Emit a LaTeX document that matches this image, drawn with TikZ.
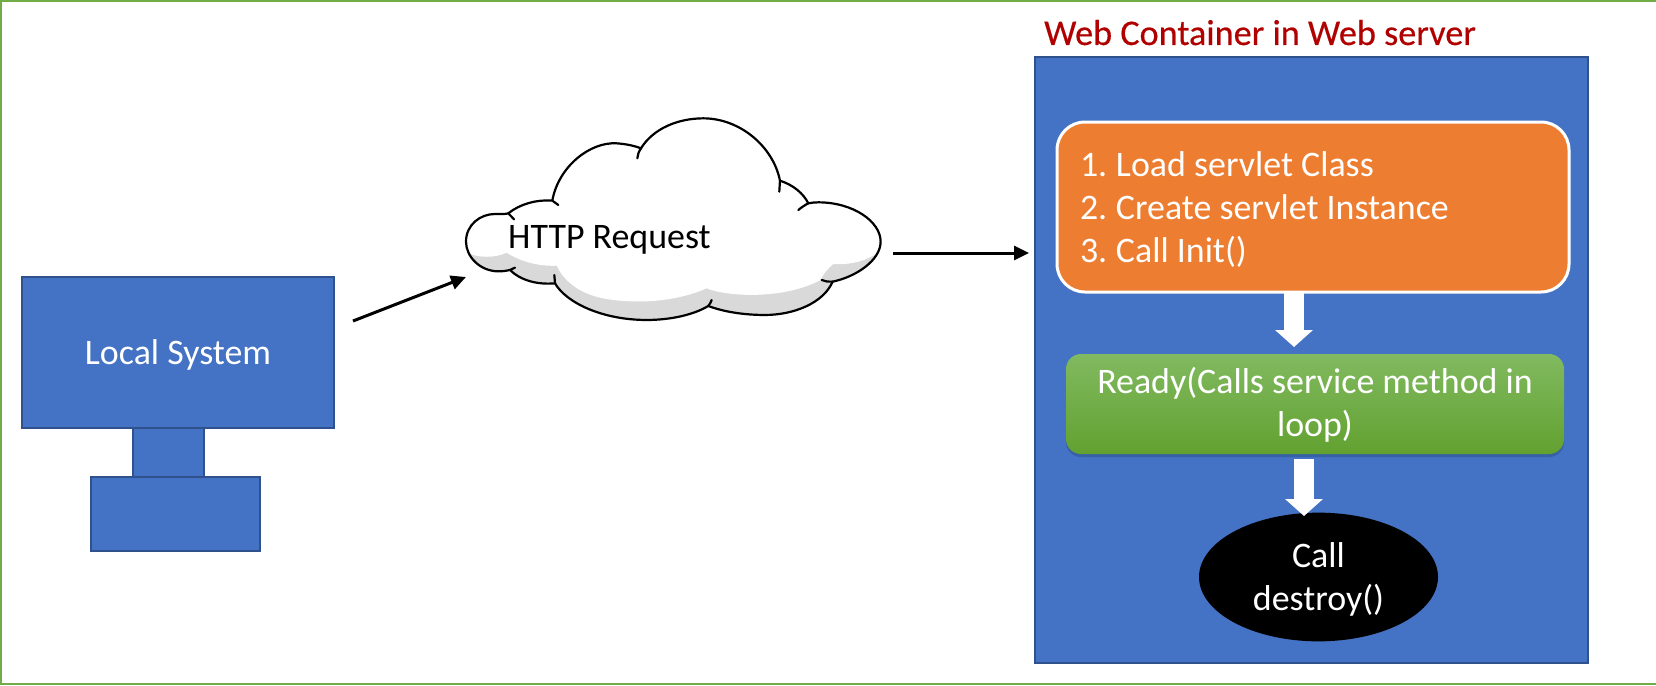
\documentclass[tikz,border=0pt]{standalone}
\usepackage{fontspec}
\setmainfont{Carlito}
\newfontfamily\titlefont[FakeBold=0.35]{Carlito}
\usetikzlibrary{arrows.meta,shapes.geometric}
\definecolor{cblue}{HTML}{4472C4}
\definecolor{cedge}{HTML}{2F528F}
\definecolor{corange}{HTML}{ED7D31}
\definecolor{cframe}{HTML}{70AD47}
\definecolor{cred}{HTML}{B00000}
\definecolor{cshade}{HTML}{D9D9D9}
\definecolor{cgreentop}{HTML}{81BA60}
\definecolor{cgreenbot}{HTML}{62A130}
\newcommand{\tightspace}{\spaceskip=.226em\relax}
\tikzset{
  bluebox/.style={draw=cedge,line width=1.2pt,fill=cblue,inner sep=0pt,outer sep=0pt},
  bodytext/.style={font=\fontsize{35.9}{43}\selectfont},
  thinarrow/.style={draw=black,line width=3pt,-{Triangle[length=15pt,width=14pt]}},
  blockarrow/.style={draw=white,line width=20pt,-{Triangle[length=17pt,width=37pt,fill=white]}},
  cloudline/.style={draw=black,line width=2.2pt,line cap=round}
}
\begin{document}
\begin{tikzpicture}[x=1pt,y=-1pt]
\useasboundingbox (0,0) rectangle (1656,685);
\fill[white] (0,0) rectangle (1656,685);
\draw[cframe,line width=2.2pt] (1656,1) -- (1,1) -- (1,684) -- (1656,684);

% local system
\node[bluebox,minimum width=71pt,minimum height=50pt] (neck) at (168.5,452.5) {};
\node[bluebox,minimum width=169pt,minimum height=74pt] (base) at (175.5,514) {};
\node[bluebox,minimum width=312pt,minimum height=151pt,text=white,bodytext,text height=30pt,text depth=6pt] (monitor) at (178,352.5) {Local System};

% cloud
\begin{scope}[shift={(440,100)},x=0.3333pt,y=-0.3333pt]
  \def\silhouette{(78,425) .. controls (78,375) and (120,342) .. (165,342) .. controls (180,342) and (195,343) .. (205,340)
    .. controls (240,312) and (290,298) .. (337,302)
    .. controls (355,200) and (450,125) .. (530,130) .. controls (560,132) and (585,138) .. (603,145)
    .. controls (640,85) and (715,55) .. (790,55) .. controls (900,55) and (1000,140) .. (1020,242)
    .. controls (1060,255) and (1090,280) .. (1105,310)
    .. controls (1115,308) and (1125,307) .. (1135,307) .. controls (1240,307) and (1322,365) .. (1322,425)
    .. controls (1322,480) and (1250,530) .. (1178,545)
    .. controls (1150,610) and (1060,645) .. (975,645) .. controls (910,645) and (850,635) .. (805,618)
    .. controls (760,645) and (690,660) .. (620,660) .. controls (490,660) and (380,610) .. (345,550)
    .. controls (290,555) and (240,540) .. (210,510)
    .. controls (195,513) and (190,514) .. (175,514) .. controls (120,514) and (78,470) .. (78,425) -- cycle}
  \fill[cshade] \silhouette;
  \begin{scope}
    \clip \silhouette;
    \fill[white] (0,0) -- (0,440) -- (100,465) .. controls (135,475) and (175,470) .. (200,458)
      .. controls (240,485) and (300,500) .. (350,497)
      .. controls (375,550) and (430,590) .. (520,600) .. controls (620,612) and (720,600) .. (800,565)
      .. controls (860,590) and (1030,600) .. (1142,540)
      .. controls (1150,520) and (1165,505) .. (1180,492)
      .. controls (1230,495) and (1285,485) .. (1330,445) -- (1400,0) -- cycle;
  \end{scope}
  \draw[cloudline] \silhouette;
  \draw[cloudline] (205,340) -- (222,358);
  \draw[cloudline] (337,302) -- (355,315);
  \draw[cloudline] (603,145) .. controls (596,155) and (593,165) .. (592,175);
  \draw[cloudline] (1020,242) -- (1018,275);
  \draw[cloudline] (1105,310) .. controls (1095,315) and (1085,322) .. (1075,330);
  \draw[cloudline] (1178,545) .. controls (1165,545) and (1155,545) .. (1145,540);
  \draw[cloudline] (805,618) .. controls (810,612) and (813,606) .. (815,600);
  \draw[cloudline] (345,550) -- (343,525);
  \draw[cloudline] (210,510) -- (225,503);
\end{scope}
\node[bodytext,anchor=base west,inner sep=0pt] (cloudtext) at (508,248) {HTTP Request};

% container
\node[bluebox,minimum width=553pt,minimum height=606pt] (container) at (1311.5,360) {};
\node[anchor=base west,inner sep=0pt,text=cred,font=\titlefont\fontsize{36.2}{40}\selectfont] (title) at (1044,45) {Web Container in Web server};

\node[draw=white,fill=corange,line width=3pt,rounded corners=28pt,minimum width=512pt,minimum height=170pt,
  text width=466pt,inner sep=0pt,align=left,text=white,bodytext] (load) at (1313,207)
  {\tightspace\rule{0pt}{39.5pt}\makebox[36pt][l]{1.}Load servlet Class\\\makebox[36pt][l]{2.}Create servlet Instance\\\makebox[36pt][l]{3.}Call Init()\rule[-15pt]{0pt}{15pt}};

\fill[cedge,opacity=.55,rounded corners=15pt] (1066,356) rectangle (1564,457);
\node[top color=cgreentop,bottom color=cgreenbot,rounded corners=15pt,minimum width=498pt,minimum height=100pt,
  text width=470pt,inner sep=0pt,align=center,text=white,bodytext] (ready) at (1315,404)
  {\tightspace\rule{0pt}{34pt}Ready(Calls service method in\\loop)\rule[-13pt]{0pt}{13pt}};

\node[ellipse,fill=black,minimum width=239pt,minimum height=128pt,inner sep=0pt,text=white,align=center,bodytext] (destroy) at (1318.5,577)
  {\rule{0pt}{36pt}Call\\destroy()\rule[-12pt]{0pt}{12pt}};

% connectors
\coordinate (m1) at (353,321);
\coordinate (c1) at (466,277);
\coordinate (c2) at (893,253);
\coordinate (w1) at (1029,253);
\draw[thinarrow] (m1) -- (c1);
\draw[thinarrow] (c2) -- (w1);
\coordinate (b1s) at (1294,293);
\coordinate (b1e) at (1294,347);
\coordinate (b2s) at (1304,459);
\coordinate (b2e) at (1304,516);
\draw[blockarrow] (b1s) -- (b1e);
\draw[blockarrow] (b2s) -- (b2e);
\end{tikzpicture}
\end{document}
